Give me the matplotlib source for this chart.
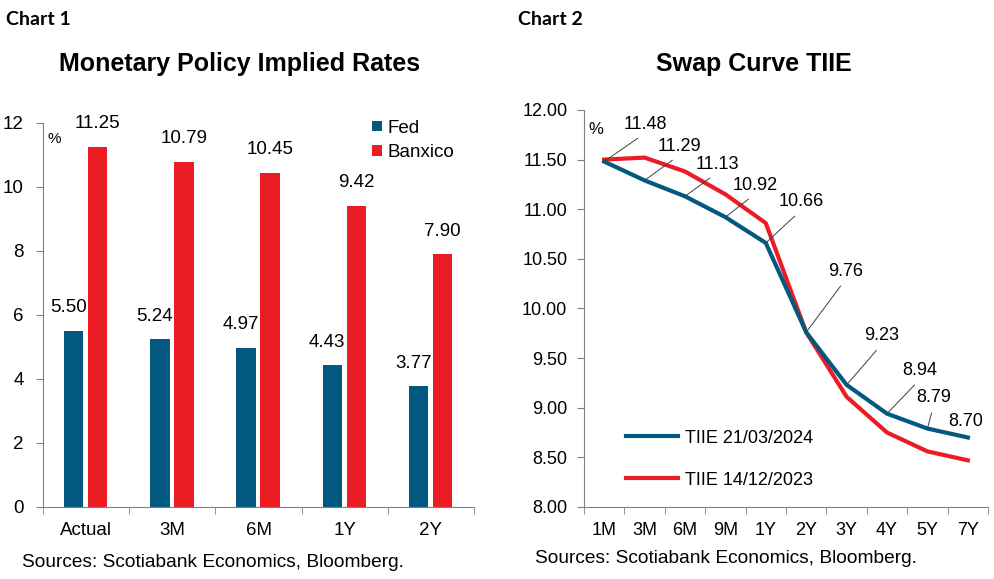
import matplotlib
matplotlib.use("Agg")
import matplotlib.pyplot as plt
import numpy as np

plt.rcParams['font.family'] = ['Liberation Sans', 'DejaVu Sans']

# chart 1 data
periods = ['Actual', '3M', '6M', '1Y', '2Y']
fed = [5.50, 5.24, 4.97, 4.43, 3.77]
banxico = [11.25, 10.79, 10.45, 9.42, 7.90]

# chart 2 data
tenors = ['1M', '3M', '6M', '9M', '1Y', '2Y', '3Y', '4Y', '5Y', '7Y']
tiie_mar24 = [11.48, 11.29, 11.13, 10.92, 10.66, 9.76, 9.23, 8.94, 8.79, 8.70]
tiie_dec23 = [11.50, 11.52, 11.38, 11.15, 10.86, 9.76, 9.11, 8.75, 8.56, 8.47]

BLUE = '#03587F'
RED = '#EC1C24'
GREY = '#808080'
FS = 13.5

fig = plt.figure(figsize=(9.94, 5.79), dpi=100)

# ---------- Chart 1 ----------
ax1 = fig.add_axes([0.0433, 0.1244, 0.4336, 0.6632])
x = np.arange(len(periods))
w = 0.225
ax1.bar(x - 0.145, fed, w, color=BLUE, label='Fed')
ax1.bar(x + 0.135, banxico, w, color=RED, label='Banxico')
ax1.set_xlim(-0.5, len(periods) - 0.5)
ax1.set_ylim(0, 12)
ax1.set_yticks(range(0, 13, 2))
ax1.set_xticks(x)
ax1.set_xticklabels(periods)
ax1.set_xticks(np.arange(-0.5, len(periods), 1), minor=True)
ax1.tick_params(axis='x', which='major', length=0, pad=11, labelsize=FS)
ax1.tick_params(axis='x', which='minor', length=5, direction='out', color=GREY)
ax1.tick_params(axis='y', length=5, direction='out', color=GREY, labelsize=FS, pad=9)
for s in ['top', 'right']:
    ax1.spines[s].set_visible(False)
for s in ['left', 'bottom']:
    ax1.spines[s].set_color(GREY)

for i in range(len(periods)):
    ax1.annotate(f'{fed[i]:.2f}', (x[i] - 0.145, fed[i]), xytext=(-5, 23),
                 textcoords='offset pixels', ha='center', va='center', fontsize=FS)
    ax1.annotate(f'{banxico[i]:.2f}', (x[i] + 0.135, banxico[i]), xytext=(0, 23),
                 textcoords='offset pixels', ha='center', va='center', fontsize=FS)
ax1.text(0.01, 0.977, '%', transform=ax1.transAxes, fontsize=11, va='top')
ax1.legend(loc='upper left', bbox_to_anchor=(0.725, 1.053), frameon=False, fontsize=FS,
           handlelength=0.5, handleheight=0.5, handletextpad=0.3, labelspacing=0.4)

fig.text(0.006, 0.967, 'Chart 1', fontsize=14, fontweight='bold', family='Lato', va='center')
fig.text(0.241, 0.889, 'Monetary Policy Implied Rates', fontsize=18, fontweight='bold', ha='center', va='center')
fig.text(0.022, 0.029, 'Sources: Scotiabank Economics, Bloomberg.', fontsize=13.8, va='center')

# ---------- Chart 2 ----------
ax2 = fig.add_axes([0.5875, 0.1244, 0.4065, 0.6857])
t = np.arange(len(tenors))
ax2.plot(t, tiie_mar24, color=BLUE, lw=3, label='TIIE 21/03/2024', zorder=3)
ax2.plot(t, tiie_dec23, color=RED, lw=3, label='TIIE 14/12/2023', zorder=2)
ax2.set_xlim(-0.5, len(tenors) - 0.5)
ax2.set_ylim(8, 12)
ax2.set_yticks(np.arange(8, 12.01, 0.5))
ax2.yaxis.set_major_formatter(matplotlib.ticker.FormatStrFormatter('%.2f'))
ax2.set_xticks(t)
ax2.set_xticklabels(tenors)
ax2.set_xticks(np.arange(-0.5, len(tenors), 1), minor=True)
ax2.tick_params(axis='x', which='major', length=0, pad=11, labelsize=13)
ax2.tick_params(axis='x', which='minor', length=5, direction='out', color=GREY)
ax2.tick_params(axis='y', length=5, direction='out', color=GREY, labelsize=13, pad=7)
for s in ['top', 'right']:
    ax2.spines[s].set_visible(False)
for s in ['left', 'bottom']:
    ax2.spines[s].set_color(GREY)

lab_off = [(41, 37), (35, 34), (32, 32), (30, 32), (35, 41), (39, 61), (35, 49), (33, 43), (6, 31), (-2, 16)]
for i in range(len(tenors)):
    dx, dy = lab_off[i]
    arrow = dict(arrowstyle='-', color='#404040', lw=0.7, shrinkA=3, shrinkB=0,
                 relpos=(0.5, 0)) if i < len(tenors) - 1 else None
    ax2.annotate(f'{tiie_mar24[i]:.2f}', (t[i], tiie_mar24[i]), xytext=(dx, dy),
                 textcoords='offset pixels', ha='center', va='center', fontsize=13,
                 arrowprops=arrow, zorder=4)
ax2.text(0.01, 0.97, '%', transform=ax2.transAxes, fontsize=12, va='top')
ax2.legend(loc='upper left', bbox_to_anchor=(0.063, 0.236), frameon=False, fontsize=13,
           handlelength=2.9, handletextpad=0.4, labelspacing=1.4)

fig.text(0.521, 0.967, 'Chart 2', fontsize=14, fontweight='bold', family='Lato', va='center')
fig.text(0.758, 0.889, 'Swap Curve TIIE', fontsize=18, fontweight='bold', ha='center', va='center')
fig.text(0.538, 0.035, 'Sources: Scotiabank Economics, Bloomberg.', fontsize=13.8, va='center')

fig.savefig('out.png', dpi=100)
